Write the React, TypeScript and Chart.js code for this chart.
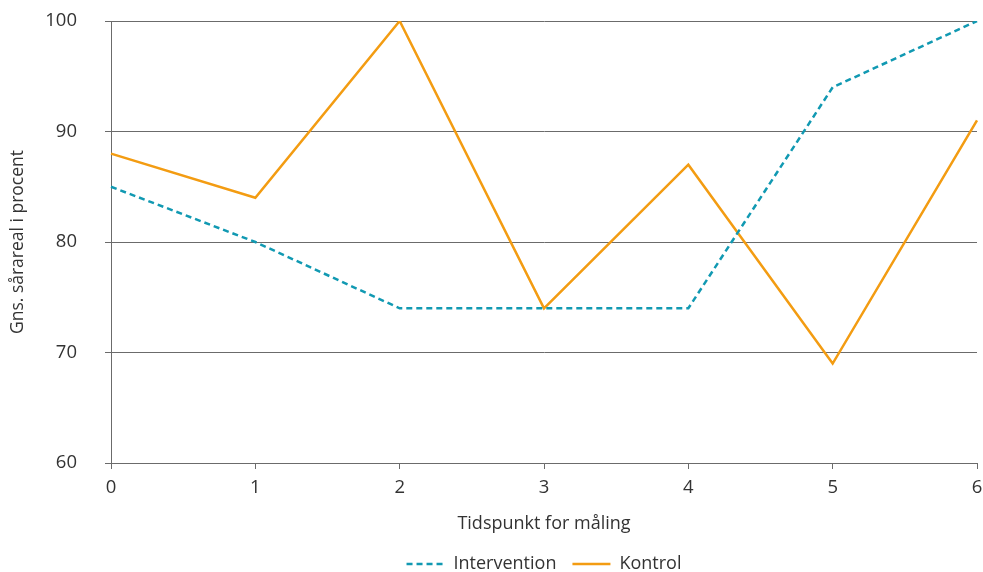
import React, { useEffect, useRef } from "react";
import { Chart, registerables } from "chart.js";

Chart.register(...registerables);

const timepoints = ["0", "1", "2", "3", "4", "5", "6"];
const intervention = [85, 80, 74, 74, 74, 94, 100];
const kontrol = [88, 84, 100, 74, 87, 69, 91];
const yTicks = [60, 70, 80, 90, 100];

const FONT = "'Open Sans', Lato, sans-serif";
const TEXT = "#333333";
const GRID = "#6b6b6b";
const TICK_FS = 18.5;
const TITLE_FS = 17.5;
const LEGEND_FS = 18;

const centerLegendOnArea = {
  id: "centerLegendOnArea",
  afterLayout(chart: any) {
    const lg = chart.legend;
    if (lg && chart.chartArea) {
      lg.left = chart.chartArea.left;
      lg.right = chart.chartArea.right;
    }
  },
};

export default function App() {
  const ref = useRef<HTMLCanvasElement | null>(null);
  useEffect(() => {
    document.body.style.margin = "0";
    const ctx = ref.current!;
    const chart = new Chart(ctx, {
      type: "line",
      data: {
        labels: timepoints,
        datasets: [
          {
            label: "Intervention",
            data: intervention,
            borderColor: "#1199b2",
            backgroundColor: "#1199b2",
            borderWidth: 2.5,
            borderDash: [6, 4],
            pointRadius: 0,
            tension: 0,
            order: 1,
          },
          {
            label: "Kontrol",
            data: kontrol,
            borderColor: "#f39c12",
            backgroundColor: "#f39c12",
            borderWidth: 2.5,
            pointRadius: 0,
            tension: 0,
            order: 2,
          },
        ],
      },
      plugins: [centerLegendOnArea],
      options: {
        animation: false,
        responsive: false,
        layout: { padding: { left: 0, right: 6, top: 21, bottom: -11 } },
        plugins: {
          tooltip: { enabled: false },
          legend: {
            position: "bottom",
            labels: {
              usePointStyle: true,
              pointStyle: "line",
              pointStyleWidth: 38,
              color: TEXT,
              font: { family: FONT, size: LEGEND_FS },
              padding: 16,
              generateLabels: (c: any) => {
                const items = Chart.defaults.plugins.legend.labels.generateLabels(c);
                return items.map((it: any) => {
                  const ds = c.data.datasets[it.datasetIndex];
                  return {
                    ...it,
                    lineDash: ds.borderDash || [],
                    lineWidth: 2.5,
                    strokeStyle: ds.borderColor,
                    fillStyle: ds.borderColor,
                  };
                });
              },
            },
          },
        },
        scales: {
          x: {
            type: "category",
            offset: false,
            afterFit: (scale: any) => {
              scale.paddingLeft = 0;
              scale.paddingRight = 0;
              scale.height = 76;
            },
            grid: {
              display: true,
              drawOnChartArea: false,
              color: GRID,
              tickLength: 6,
            },
            border: { display: true, color: GRID, width: 1 },
            ticks: { color: TEXT, font: { family: FONT, size: TICK_FS }, padding: 8, maxRotation: 0 },
            title: {
              display: true,
              text: "Tidspunkt for måling",
              color: TEXT,
              font: { family: FONT, size: LEGEND_FS },
              padding: { top: 0, bottom: 4 },
            },
          },
          y: {
            min: 60,
            max: 100,
            afterBuildTicks: (scale: any) => {
              scale.ticks = yTicks.map((v) => ({ value: v }));
            },
            afterFit: (scale: any) => {
              scale.width = 111;
              scale.paddingTop = 0;
              scale.paddingBottom = 0;
            },
            grid: { color: GRID, tickLength: 6, lineWidth: 1 },
            border: { display: true, color: GRID, width: 1 },
            ticks: { color: TEXT, font: { family: FONT, size: TICK_FS }, padding: 28 },
            title: {
              display: true,
              text: "Gns. sårareal i procent",
              color: TEXT,
              font: { family: FONT, size: TITLE_FS },
              padding: { top: 8, bottom: 0 },
            },
          },
        },
      },
    });
    return () => chart.destroy();
  }, []);
  return (
    <div style={{ width: 983, height: 572 }}>
      <canvas ref={ref} width={983} height={572} style={{ display: "block" }} />
    </div>
  );
}
